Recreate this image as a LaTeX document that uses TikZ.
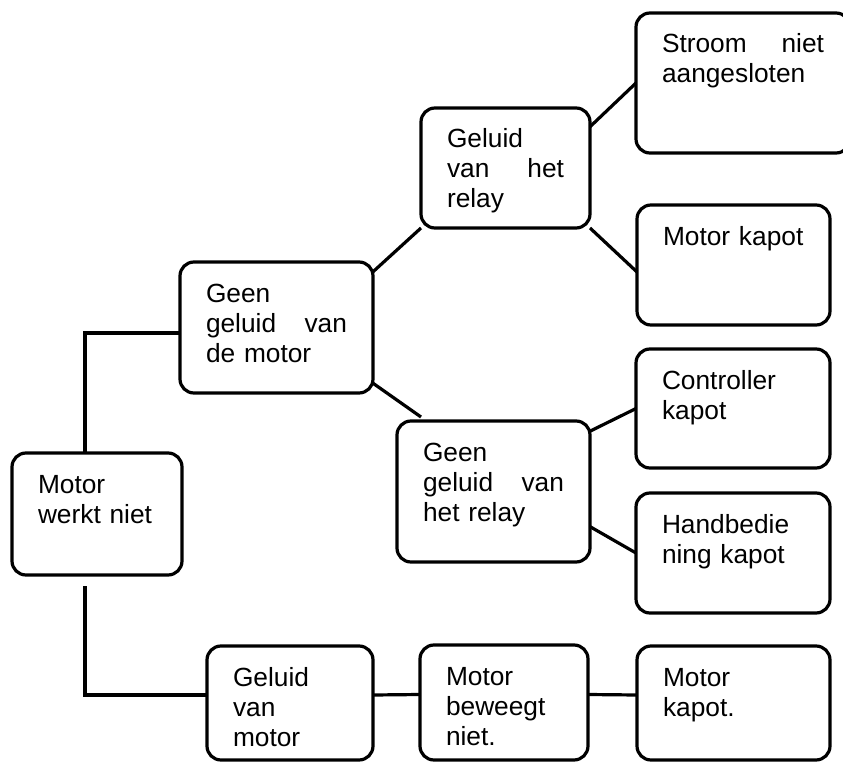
\documentclass[tikz,border=0pt]{standalone}
\usepackage{fontspec}
\setmainfont{Liberation Sans}
\usepackage{tikz}

\begin{document}
\begin{tikzpicture}[x=1pt,y=-1pt,
  blok/.style={draw,rectangle,rounded corners=14pt,line width=3.2pt,anchor=north west,
    align=left,inner xsep=26pt,inner ysep=0pt,outer sep=0pt,text height=40pt,
    font=\fontsize{26.3}{30}\selectfont},
  lijn/.style={line width=3.2pt}]
\clip (0,0) rectangle (843,762);
\node[blok,text width=118pt,text depth=82pt] (M)at(12,453){Motor\\werkt niet};
\node[blok,text width=141pt,text depth=91pt] (GG)at(180,262){Geen\\geluid\hfill van\\de motor};
\node[blok,text width=117pt,text depth=80pt] (GR)at(421,108){Geluid\\van\hfill het\\relay};
\node[blok,text width=162pt,text depth=100pt] (SN)at(636,13){Stroom\hfill niet\\aangesloten};
\node[blok,text width=141pt,text depth=80pt] (MK)at(637,205){Motor kapot};
\node[blok,text width=141pt,text depth=101pt] (GGR)at(397,421){Geen\\geluid\hfill van\\het relay};
\node[blok,text width=142pt,text depth=79pt] (CK)at(636,349){Controller\\kapot};
\node[blok,text width=142pt,text depth=80pt] (HK)at(636,493){Handbedie\\ning kapot};
\node[blok,text width=114pt,text depth=74pt] (GM)at(207,646){Geluid\\van\\motor};
\node[blok,text width=116pt,text depth=75pt] (MB)at(420,645){Motor\\beweegt\\niet.};
\node[blok,text width=141pt,text depth=74pt] (MP)at(637,646){Motor\\kapot.};
% verbindingen
\draw[lijn] ([xshift=-12pt]M.north) |- ([yshift=-5.5pt]GG.west);
\draw[lijn] ([xshift=-12pt,yshift=-11pt]M.south) |- ([yshift=8pt]GM.west);
\draw[lijn] (GG.30) -- (GR.south west);
\draw[lijn] (GG.-30) -- ([xshift=24pt,yshift=4pt]GGR.north west);
\draw[lijn] (GR.26) -- (SN.west);
\draw[lijn] (GR.south east) -- ([yshift=-7pt]MK.west);
\draw[lijn] (GGR.32.5) -- (CK.west);
\draw[lijn] (GGR.-20) -- (HK.west);
\draw[lijn] ([yshift=8pt]GM.east) -- ([yshift=8pt]MB.west);
\draw[lijn] ([yshift=8pt]MB.east) -- ([yshift=8pt]MP.west);
\end{tikzpicture}
\end{document}
